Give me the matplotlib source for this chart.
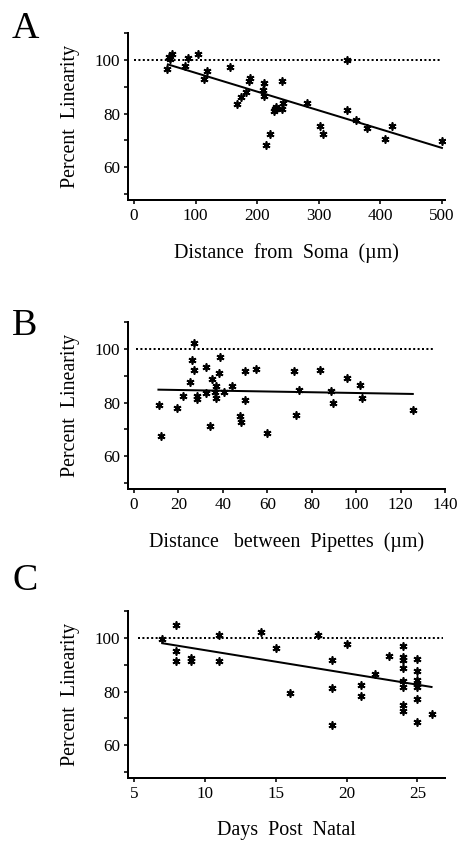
import matplotlib
matplotlib.use("Agg")
import matplotlib.pyplot as plt
from matplotlib.ticker import FixedLocator

plt.rcParams["font.family"] = ["Liberation Serif", "DejaVu Serif"]

# Panel A: distance from soma (um) vs percent linearity
soma_dist = [53, 59, 61, 57, 83, 87, 103.5, 118, 113, 156, 188.5, 187, 182, 173, 168,
             211, 209, 211, 240, 241.6, 240, 229, 227.5, 230.8, 221, 214.5, 281.7,
             302, 306.6, 345.6, 345.6, 360.8, 378, 408, 419, 500]
soma_lin = [96.6, 100.2, 102.2, 101.0, 97.8, 100.7, 102.2, 95.8, 92.7, 97.3, 93.2, 92.3,
            88, 86, 83.6, 91.3, 88.6, 86.7, 92, 83.9, 81.7, 81.7, 80.9, 82.4, 72.2, 68.2,
            84, 75.2, 72.4, 99.8, 81.5, 77.6, 74.7, 70.6, 75.2, 69.7]
soma_fit_x = [55, 500]
soma_fit_y = [98.3, 67.2]

# Panel B: distance between pipettes (um)
pip_dist = [11.4, 12.1, 19.2, 22.2, 25.2, 26.2, 27.1, 27.1, 28.2, 28.2, 32.2, 32.3,
            34.1, 34.9, 36.4, 37.1, 37.1, 38.2, 38.9, 40.4, 44.2, 47.9, 48.1, 50, 50,
            54.8, 60, 71.9, 73.1, 74.1, 83.9, 88.5, 89.5, 95.8, 101.8, 102.7, 125.5]
pip_lin = [79, 67.6, 78.1, 82.3, 87.8, 95.8, 102, 92, 82.3, 81.4, 93.3, 83.6, 71.4,
           88.9, 84.1, 86.3, 81.7, 91.1, 97.1, 83.9, 86.3, 74.9, 72.8, 91.8, 81, 92.4,
           68.6, 91.8, 75.5, 84.7, 92, 84.2, 79.8, 89, 86.4, 81.8, 77.1]
pip_fit_x = [11, 125.5]
pip_fit_y = [84.8, 83.2]

# Panel C: days post natal
age_days = [7, 8, 8, 8, 9, 9, 11, 11, 14, 15, 16, 18, 19, 19, 19, 20, 21, 21, 22, 23,
            24, 24, 24, 24, 24, 24, 24, 24, 25, 25, 25, 25, 25, 25, 25, 26]
age_lin = [99.5, 104.7, 95.2, 91.5, 92.5, 91.3, 101, 91.3, 102.2, 96.1, 79.3, 101,
           91.9, 81.5, 67.7, 97.7, 82.6, 78.3, 86.4, 93.4, 97.1, 92.8, 91.8, 88.8, 83.9,
           81.7, 75, 72.9, 92.1, 87.6, 84.2, 82.7, 81.7, 77.1, 68.6, 71.5]
age_fit_x = [7, 26]
age_fit_y = [98, 81.7]

panels = [
    ("A", soma_dist, soma_lin, soma_fit_x, soma_fit_y, "Distance  from  Soma  (\u00b5m)",
     [0, 100, 200, 300, 400, 500], (-9.8, 505), (0, 500)),
    ("B", pip_dist, pip_lin, pip_fit_x, pip_fit_y, "Distance   between  Pipettes  (\u00b5m)",
     [0, 20, 40, 60, 80, 100, 120, 140], (-2.7, 140), (1, 135)),
    ("C", age_days, age_lin, age_fit_x, age_fit_y, "Days  Post  Natal",
     [5, 10, 15, 20, 25], (4.58, 26.95), (5.3, 26.8)),
]

W, H = 458, 846
fig = plt.figure(figsize=(W / 72, H / 72), dpi=72)

# pixel boxes (top, bottom) of each panel's axes
tops = [33, 322, 611]
bottoms = [200, 489, 778]
letter_y = [38, 335, 590]
left, right = 128, 445

for i, (letter, xs, ys, fx, fy, xlabel, xticks, xlim, dot_range) in enumerate(panels):
    ax = fig.add_axes([left / W, 1 - bottoms[i] / H, (right - left) / W,
                       (bottoms[i] - tops[i]) / H])
    ax.plot(xs, ys, linestyle="none", marker=(6, 2, 0), markersize=8,
            markeredgewidth=1.7, color="black")
    ax.plot(fx, fy, color="black", linewidth=2)
    ax.hlines(100, dot_range[0], dot_range[1], color="black", linewidth=2,
              linestyle=(0, (1, 1.2)))

    ax.set_xlim(*xlim)
    ax.set_ylim(47.8, 110)
    ax.spines["top"].set_visible(False)
    ax.spines["right"].set_visible(False)
    for s in ("left", "bottom"):
        ax.spines[s].set_linewidth(2)

    ax.xaxis.set_major_locator(FixedLocator(xticks))
    ax.yaxis.set_major_locator(FixedLocator([60, 80, 100]))
    ax.yaxis.set_minor_locator(FixedLocator([50, 70, 90, 110]))
    ax.tick_params(which="both", direction="out", length=4, width=1.6,
                   labelsize=17, pad=4)

    ax.set_ylabel("Percent  Linearity", fontsize=20, labelpad=15)
    ax.set_xlabel(xlabel, fontsize=20, labelpad=19)
    fig.text(12 / W, 1 - letter_y[i] / H, letter, fontsize=38, ha="left",
             va="baseline")

fig.savefig("out.png", dpi=72)
